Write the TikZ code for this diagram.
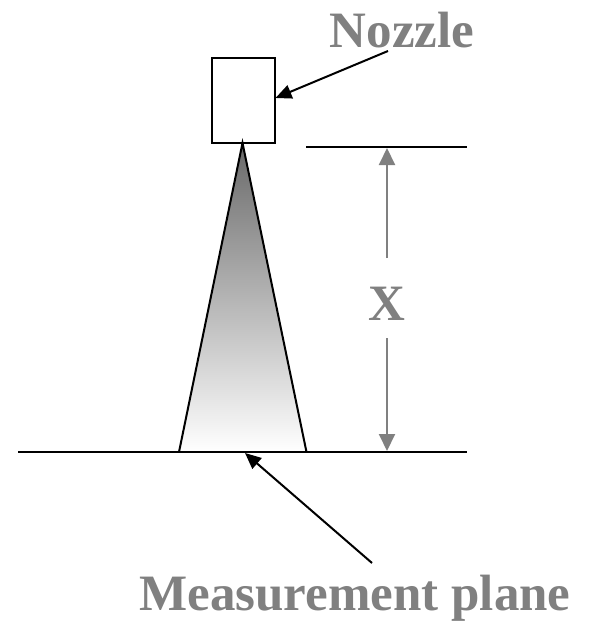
\documentclass[tikz,border=0pt]{standalone}
\usepackage{fontspec}
\setmainfont{Liberation Serif}
\usetikzlibrary{positioning,arrows.meta,calc}
\definecolor{LabelGray}{RGB}{128,128,128}
\definecolor{SprayTop}{RGB}{105,105,105}

\begin{document}
\begin{tikzpicture}[x=1pt, y=-1pt, line width=2pt,
    every node/.style={font=\fontsize{51}{51}\selectfont\bfseries, text=LabelGray},
    pointer/.style={-{Triangle[length=16pt, width=14pt]}, black},
    dimline/.style={-{Triangle[length=17pt, width=16pt]}, LabelGray}]
  \useasboundingbox (0,0) rectangle (595,623);
  % nozzle and spray cone
  \node[draw=black, fill=white, minimum width=63pt, minimum height=84pt, inner sep=0pt] (nozzle) at (243,100.5) {};
  \coordinate (apex) at (242.5,143);
  \coordinate (coneL) at (179,452);
  \coordinate (coneR) at (306.5,452);
  \shade[top color=SprayTop, bottom color=white] (apex) -- (coneL) -- (coneR) -- cycle;
  \draw[black, line join=miter] (coneL) -- (apex) -- (coneR);
  % measurement plane and reference line
  \coordinate (planeL) at (18,452);
  \coordinate (planeR) at (467,452);
  \draw[black] (planeL) -- (planeR);
  \coordinate (refL) at (306,147);
  \coordinate (refR) at (467,147);
  \draw[black] (refL) -- (refR);
  % distance X
  \node[anchor=base] (xlab) at (387,320) {X};
  \coordinate (dimtop) at (387,148);
  \coordinate (dimbot) at (387,451);
  \coordinate (gaptop) at (387,258);
  \coordinate (gapbot) at (387,338);
  \draw[dimline] (gaptop) -- (dimtop);
  \draw[dimline] (gapbot) -- (dimbot);
  % labels
  \node[anchor=base] (nozlab) at (402,48) {Nozzle};
  \node[anchor=base] (planelab) at (355,610) {Measurement plane};
  \coordinate (noztail) at (388,51);
  \coordinate (planetail) at (372,563);
  \coordinate (planetip) at (245,453);
  \draw[pointer] (noztail) -- (nozzle.east |- 0,98);
  \draw[pointer] (planetail) -- (planetip);
\end{tikzpicture}
\end{document}
